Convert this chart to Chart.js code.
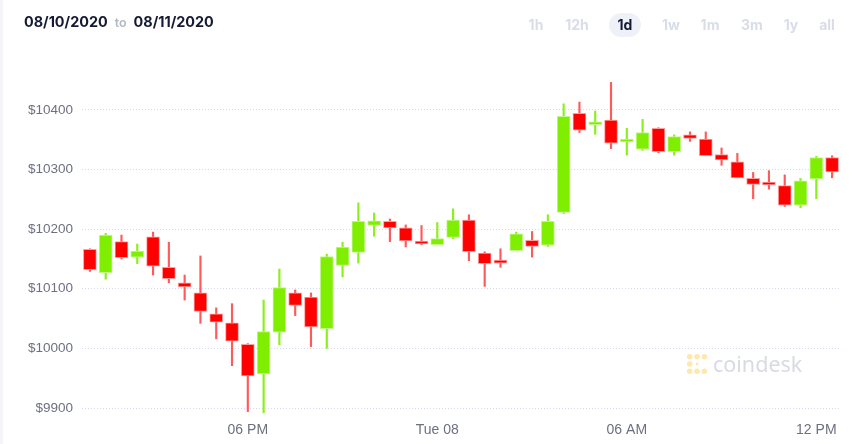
<!DOCTYPE html>
<html>
<head>
<meta charset="utf-8">
<script src="https://cdn.jsdelivr.net/npm/chart.js@4.4.0/dist/chart.umd.min.js"></script>
<style>
  html, body { margin: 0; padding: 0; background: #fff; }
  body { width: 861px; height: 444px; position: relative; overflow: hidden; }
  #edge { position: absolute; left: 0; top: 0; width: 3px; height: 444px; background: #f3f5f9; }
  #wrap { position: absolute; left: 0; top: 0; width: 861px; height: 444px; }
  .dates { position: absolute; left: 24px; top: 13px; font-family: Inter, "DejaVu Sans", sans-serif; font-weight: 700; font-size: 14.4px; color: #141a33; }
  .dates .to { color: #b3b7c4; font-weight: 600; font-size: 12.5px; margin: 0 7px; }
  .ranges { position: absolute; top: 13px; left: 0; font-family: Inter, "DejaVu Sans", sans-serif; font-weight: 700; font-size: 14px; color: #d9dde8; }
  .ranges span { position: absolute; top: 0; height: 24px; line-height: 24px; text-align: center; width: 40px; }
  .ranges span.on { background: #eef2f8; color: #141a33; border-radius: 12px; width: 32px; }
  .logo { position: absolute; left: 686px; top: 352px; font-family: "Noto Sans", "Open Sans", sans-serif; font-size: 21.5px; color: #d8dbe2; }
  .logo svg { position: absolute; left: 0; top: 1px; }
  .logo .txt { position: absolute; left: 27px; top: -3px; white-space: nowrap; }
</style>
</head>
<body>
<div id="edge"></div>
<div id="wrap"><canvas id="chart" width="861" height="444"></canvas></div>
<div class="dates">08/10/2020<span class="to">to</span>08/11/2020</div>
<div class="ranges">
  <span style="left:516px">1h</span>
  <span style="left:557px">12h</span>
  <span class="on" style="left:609px">1d</span>
  <span style="left:651px">1w</span>
  <span style="left:690px">1m</span>
  <span style="left:732px">3m</span>
  <span style="left:771px">1y</span>
  <span style="left:807px">all</span>
</div>
<div class="logo">
  <svg width="22" height="22" viewBox="0 0 24 24">
    <g fill="#ffe8ae">
      <circle cx="4" cy="4" r="3"/><circle cx="12" cy="4" r="3"/><circle cx="20" cy="4" r="3"/>
      <circle cx="4" cy="12" r="3"/><circle cx="12" cy="12" r="1.5"/>
      <circle cx="4" cy="20" r="3"/><circle cx="12" cy="20" r="3"/><circle cx="20" cy="20" r="3"/>
    </g>
  </svg>
  <span class="txt">coindesk</span>
</div>
<script>
// 30分足 (13:00 〜 翌12:30)
const times = ['13:00','13:30','14:00','14:30','15:00','15:30','16:00','16:30','17:00','17:30',
               '18:00','18:30','19:00','19:30','20:00','20:30','21:00','21:30','22:00','22:30',
               '23:00','23:30','00:00','00:30','01:00','01:30','02:00','02:30','03:00','03:30',
               '04:00','04:30','05:00','05:30','06:00','06:30','07:00','07:30','08:00','08:30',
               '09:00','09:30','10:00','10:30','11:00','11:30','12:00','12:30'];

const opens  = [10166, 10127, 10179, 10153, 10187, 10136, 10110, 10093, 10058, 10043,
                10007,  9957, 10027, 10093, 10086, 10033, 10139, 10161, 10206, 10213,
                10202, 10178, 10174, 10186, 10215, 10160, 10148, 10164, 10181, 10173,
                10228, 10394, 10375, 10383, 10346, 10334, 10369, 10330, 10358, 10351,
                10325, 10313, 10285, 10279, 10273, 10240, 10284, 10320];
const closes = [10132, 10190, 10152, 10163, 10138, 10117, 10103, 10062, 10044, 10012,
                 9954, 10028, 10102, 10072, 10036, 10154, 10170, 10213, 10214, 10202,
                10180, 10175, 10184, 10215, 10162, 10142, 10143, 10192, 10171, 10213,
                10389, 10366, 10378, 10344, 10350, 10362, 10330, 10355, 10352, 10323,
                10316, 10286, 10275, 10274, 10240, 10281, 10320, 10296];
const highs  = [10167, 10193, 10190, 10175, 10195, 10178, 10123, 10155, 10068, 10075,
                10008, 10081, 10133, 10098, 10093, 10158, 10178, 10244, 10227, 10217,
                10207, 10206, 10211, 10234, 10224, 10162, 10167, 10195, 10196, 10224,
                10410, 10413, 10398, 10446, 10369, 10384, 10370, 10358, 10363, 10363,
                10336, 10327, 10295, 10298, 10291, 10285, 10322, 10323];
const lows   = [10129, 10116, 10150, 10142, 10123, 10110, 10081, 10042, 10016,  9971,
                 9894,  9892, 10006, 10055, 10003, 10000, 10120, 10143, 10188, 10179,
                10170, 10174, 10174, 10184, 10147, 10104, 10136, 10164, 10153, 10171,
                10226, 10362, 10359, 10335, 10324, 10332, 10328, 10324, 10347, 10323,
                10307, 10286, 10251, 10267, 10238, 10236, 10251, 10286];

// 軸ラベル
const xTickTimes  = ['18:00', '00:00', '06:00', '12:00'];
const xTickLabels = ['06 PM', 'Tue 08', '06 AM', '12 PM'];
const yTicks = [9900, 10000, 10100, 10200, 10300, 10400];

const upColor = '#7fee00', downColor = '#ff0000';
const up = opens.map((o, i) => closes[i] >= o);

let ctx = document.getElementById('chart').getContext('2d');
let chart = new Chart(ctx, {
    type: 'bar',
    data: {
        labels: times,
        datasets: [{
            // ローソク本体
            label: 'body',
            data: opens.map((o, i) => [o, closes[i]]),
            backgroundColor: up.map(u => u ? upColor : downColor),
            borderColor: up.map(u => u ? '#c2f78c' : '#ff9c9c'),
            borderWidth: 1,
            borderSkipped: false,
            barThickness: 13,
            minBarLength: 3,
            grouped: false,
            order: 1
        }, {
            // ヒゲ
            label: 'wick',
            data: lows.map((l, i) => [l, highs[i]]),
            backgroundColor: up.map(u => u ? '#8af01a' : '#ff5a5a'),
            borderWidth: 0,
            barThickness: 1.5,
            grouped: false,
            order: 2
        }]
    },
    options: {
        responsive: false,
        animation: false,
        layout: { padding: { top: 80, right: 21, left: 0, bottom: 0 } },
        plugins: { legend: { display: false }, tooltip: { enabled: false } },
        scales: {
            x: {
                grid: { display: false, drawTicks: false },
                border: { display: false },
                afterFit: s => { s.height = 30; },
                ticks: {
                    autoSkip: false,
                    maxRotation: 0,
                    padding: 8,
                    color: '#6d7080',
                    font: { family: '"Liberation Sans Narrow", "Liberation Sans", sans-serif', size: 14 },
                    callback: function(v, i) {
                        let k = xTickTimes.indexOf(times[i]);
                        return k >= 0 ? xTickLabels[k] : '';
                    }
                }
            },
            y: {
                min: 9890,
                max: 10450,
                afterFit: s => { s.width = 82; },
                afterBuildTicks: s => { s.ticks = yTicks.map(v => ({ value: v })); },
                grid: { color: '#d3daf0', drawTicks: false, lineWidth: 1 },
                border: { display: false, dash: [1, 2] },
                ticks: {
                    padding: 9,
                    color: '#6d7080',
                    font: { family: '"Liberation Sans Narrow", "Liberation Sans", sans-serif', size: 13.5 },
                    callback: v => '$' + v
                }
            }
        }
    }
});
</script>
</body>
</html>
